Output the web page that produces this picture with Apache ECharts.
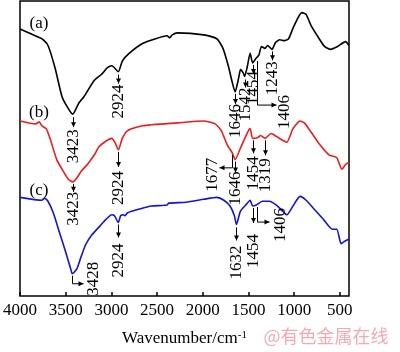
<!DOCTYPE html>
<html>
<head>
<meta charset="utf-8">
<script src="https://cdn.jsdelivr.net/npm/echarts@6/dist/echarts.min.js"></script>
<style>
html, body { margin: 0; padding: 0; background: #fff; }
#main { width: 400px; height: 352px; }
</style>
</head>
<body>
<div id="main"></div>
<script>
var myChart = echarts.init(document.getElementById('main'));

// x ticks (wavenumber, cm-1)
var xTicks = [500, 1000, 1500, 2000, 2500, 3000, 3500, 4000];

// (a) black
var wnA = [4000,3809,3761,3694,3617,3540,3473,3423,3359,3301,3186,3110,3043,2995,2924,2880,2803,2660,2516,2392,2363,2334,2277,1990,1846,1779,1721,1683,1646,1606,1587,1559,1542,1511,1482,1454,1415,1386,1358,1319,1291,1243,1204,1157,1109,1061,1003,917,869,812,726,668,601,525,438,400];
var valA = [276,268,266,259,236,206,194,188,199,206,223,229,236,238,232,243,251,261,266,269,267,270,272,270,266,256,238,223,211,226,234,231,227,238,251,241,246,249,258,256,259,255,262,265,264,266,279,293,291,279,266,258,255,258,263,259];

// (b) red
var wnB = [4000,3828,3789,3761,3713,3665,3598,3521,3473,3423,3378,3330,3263,3186,3138,3062,2995,2957,2924,2880,2822,2660,2277,1990,1865,1798,1731,1677,1646,1587,1511,1482,1454,1396,1367,1319,1253,1195,1128,1080,1013,936,888,812,716,620,534,477,438,400];
var valB = [181,178,180,176,173,161,141,128,121,118,122,129,136,146,154,160,163,158,151,163,171,176,179,181,178,171,156,148,141,153,169,173,163,164,166,163,168,165,161,159,173,181,179,169,156,146,143,131,136,138];

// (c) blue
var wnC = [4000,3761,3732,3694,3636,3569,3502,3445,3428,3378,3330,3282,3215,3119,3062,2995,2966,2924,2899,2870,2851,2822,2688,2564,2392,2372,2181,1990,1846,1769,1702,1654,1632,1587,1530,1482,1454,1415,1348,1271,1195,1128,1080,1013,936,869,773,678,582,534,486,457,400];
var valC = [102,99,101,98,86,66,46,28,23,28,41,53,63,73,79,84,83,76,83,84,83,86,90,93,94,96,97,100,102,99,93,83,74,88,94,99,93,94,98,98,94,88,84,93,103,99,89,79,69,69,54,56,59];

// peak labels: series, wavenumber, value at the peak, text
var peakSeries = [0, 0, 0, 0, 0, 0, 0, 1, 1, 1, 1, 1, 1, 2, 2, 2, 2, 2];
var peakWn   = [3423, 2924, 1646, 1542, 1454, 1406, 1243, 3423, 2924, 1677, 1646, 1454, 1319, 3428, 2924, 1632, 1454, 1406];
var peakVal  = [188, 232, 211, 227, 241, 246, 255, 118, 151, 148, 141, 163, 163, 23, 76, 74, 93, 94];
var peakText = ['3423','2924','1646','1542','1454','1406','1243','3423','2924','1677','1646','1454','1319','3428','2924','1632','1454','1406'];

var panelText = ['(a)', '(b)', '(c)'];

// label layout (pixels from the peak point)
var noteLayout = [
  {a0: 3, a1: 13, t: 32},
  {a0: 3, a1: 12, t: 30},
  {a0: 2, a1: 12, t: 29},
  {a0: 3, a1: 11, t: 28},
  {a0: 2, a1: 11, t: 25},
  {a0: 3, hook: [47, 19], dx: 27, dy: 54},
  {a0: 2, a1: 11, t: 29},
  {a0: 2, a1: 10, t: 27},
  {a0: 2, a1: 17, t: 38},
  {a0: 2, hook: [15, -13], dx: -20, dy: 22},
  {a0: 2, a1: 13, t: 29},
  {a0: 2, a1: 15, t: 35},
  {a0: 2, a1: 17, t: 37},
  {a0: 2, hook: [10, 11], dx: 21, dy: 5},
  {a0: 2, a1: 15, t: 38},
  {a0: 3, a1: 16, t: 38},
  {a0: 2, a1: 17, t: 45},
  {a0: 2, hook: [17, 12], dx: 23, dy: 20}
];

var serif = '"Liberation Serif", "Times New Roman", serif';
var colors = ['#000000', '#ee1c1c', '#1414d2'];

function zip(xs, ys) {
    var out = [];
    for (var i = 0; i < xs.length; i++) out.push([xs[i], ys[i]]);
    return out;
}

function makeLine(data, color) {
    return {
        type: 'line',
        data: data,
        smooth: 0.2,
        symbol: 'none',
        lineStyle: { color: color, width: 1.6 },
        animation: false
    };
}

var option = {
    animation: false,
    grid: {
        left: 20,
        right: 4,
        top: 1,
        bottom: 46,
        show: true,
        borderColor: '#000',
        borderWidth: 1.5
    },
    xAxis: {
        type: 'value',
        min: 400,
        max: 4000,
        inverse: true,
        axisLine: { show: false },
        splitLine: { show: false },
        axisTick: {
            inside: true,
            length: 4,
            customValues: xTicks,
            lineStyle: { color: '#000', width: 1.5 }
        },
        axisLabel: {
            customValues: xTicks,
            formatter: function (v) { return String(v); },
            color: '#000',
            fontFamily: serif,
            fontSize: 17,
            margin: 6
        },
        name: 'Wavenumber/cm{sup|-1}',
        nameLocation: 'middle',
        nameGap: 34,
        nameTextStyle: {
            color: '#000',
            fontFamily: serif,
            fontSize: 17,
            rich: {
                sup: { fontFamily: serif, fontSize: 11, color: '#000', verticalAlign: 'top' }
            }
        }
    },
    yAxis: {
        type: 'value',
        min: 0,
        max: 305,
        show: false
    },
    series: [
        makeLine(zip(wnA, valA), colors[0]),
        makeLine(zip(wnB, valB), colors[1]),
        makeLine(zip(wnC, valC), colors[2])
    ]
};
myChart.setOption(option);

function seg(x1, y1, x2, y2) {
    return { type: 'line', silent: true, z: 10,
        shape: { x1: x1, y1: y1, x2: x2, y2: y2 },
        style: { stroke: '#000', lineWidth: 1 } };
}
function head(x, y, dir) {
    var p;
    if (dir === 'down') p = [[x - 2.5, y - 5], [x + 2.5, y - 5], [x, y]];
    else if (dir === 'right') p = [[x - 5, y - 2.5], [x - 5, y + 2.5], [x, y]];
    else p = [[x + 5, y - 2.5], [x + 5, y + 2.5], [x, y]];
    return { type: 'polygon', silent: true, z: 10, shape: { points: p }, style: { fill: '#000' } };
}
function vtext(x, y, s) {
    return { type: 'text', silent: true, z: 11, x: x, y: y, rotation: Math.PI / 2,
        style: { text: s, font: '17px ' + serif, fill: '#000',
            align: 'center', verticalAlign: 'middle',
            textAlign: 'center', textVerticalAlign: 'middle' } };
}

var g = [];
for (var i = 0; i < peakWn.length; i++) {
    var p = myChart.convertToPixel({ gridIndex: 0 }, [peakWn[i], peakVal[i]]);
    var L = noteLayout[i];
    var x = Math.round(p[0]) + 0.5, y = p[1];
    if (L.hook) {
        var y2 = y + L.hook[0], x2 = x + L.hook[1];
        g.push(seg(x, y + L.a0, x, y2));
        g.push(seg(x, y2, x2, y2));
        g.push(head(x2, y2, L.hook[1] > 0 ? 'right' : 'left'));
        g.push(vtext(x + L.dx, y + L.dy, peakText[i]));
    } else {
        g.push(seg(x, y + L.a0, x, y + L.a1));
        g.push(head(x, y + L.a1, 'down'));
        g.push(vtext(x, y + L.t, peakText[i]));
    }
}

var panelY = [24, 113, 191];
for (var k = 0; k < panelText.length; k++) {
    g.push({ type: 'text', silent: true, z: 11, x: 39, y: panelY[k],
        style: { text: panelText[k], font: '17px ' + serif, fill: '#000',
            align: 'center', verticalAlign: 'middle',
            textAlign: 'center', textVerticalAlign: 'middle' } });
}

g.push({ type: 'text', silent: true, z: 12, x: 326, y: 336,
    style: { text: '@有色金属在线', font: '18px "Noto Sans CJK SC", sans-serif',
        fill: 'rgba(236,110,125,0.6)', align: 'center', verticalAlign: 'middle',
        textAlign: 'center', textVerticalAlign: 'middle' } });

myChart.setOption({ graphic: { elements: g } });
</script>
</body>
</html>
